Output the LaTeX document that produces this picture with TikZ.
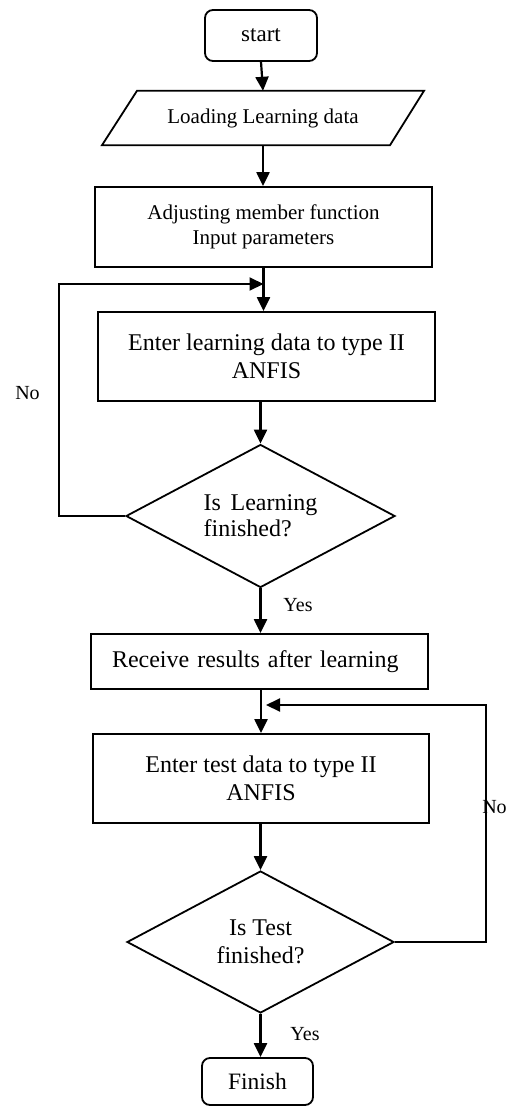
\documentclass[tikz,border=0pt]{standalone}
\usepackage{fontspec}
\setmainfont{Liberation Serif}
\usetikzlibrary{shapes.geometric,arrows.meta,calc}
\tikzset{
  box/.style={draw, line width=1.8pt, minimum width=337pt, inner sep=2pt, align=center,
              font=\fontsize{24}{28}\selectfont},
  term/.style={draw, line width=1.8pt, rounded corners=8pt, inner sep=0pt, align=center},
  dec/.style={draw, diamond, line width=1.8pt, inner sep=0pt, aspect=1.88,
              minimum width=269pt, minimum height=143pt},
  arr/.style={line width=2.2pt, -{Triangle[length=14pt,width=13pt]}},
  lbl/.style={font=\fontsize{20}{24}\selectfont, inner sep=0pt}
}
\begin{document}
\begin{tikzpicture}[x=1pt,y=-1pt]
\fill[white] (0,0) rectangle (510,1106);
\useasboundingbox (0,0) rectangle (510,1106);

\node[term, minimum width=112pt, minimum height=51pt, font=\fontsize{23}{27}\selectfont] (start) at (261,35.5) {start};

\node[minimum width=252pt, minimum height=54pt, inner sep=0pt, font=\fontsize{21}{25}\selectfont] (load) at (263,118) {Loading Learning data};
\draw[line width=1.8pt] ($(load.north)+(-126,0)$) -- ($(load.north)+(161,0)$) -- ($(load.south)+(127,0)$) -- ($(load.south)+(-161,0)$) -- cycle;

\node[box, minimum height=80pt, font=\fontsize{21}{25}\selectfont] (adj) at (263.5,227) {Adjusting member function\\Input parameters};

\node[box, minimum height=89pt] (learn) at (266.5,356.5) {Enter learning data to type II\\ANFIS};

\node[dec, align=left, font=\fontsize{24}{26}\selectfont] (dec1) at (260.5,516) {Is\hspace{0.4em}Learning\\finished?};

\node[box, minimum height=55pt, text width=295pt, inner xsep=21pt, align=left] (recv) at (259.5,661.5) {Receive results after learning};

\node[box, minimum width=336pt, minimum height=89pt] (test) at (261,778.5) {Enter test data to type II\\ANFIS};

\node[dec, minimum width=267pt, minimum height=142pt, align=center, font=\fontsize{24}{28}\selectfont] (dec2) at (260.5,942) {Is Test\\finished?};

\node[term, minimum width=111pt, minimum height=47pt, font=\fontsize{23.5}{27}\selectfont] (fin) at (257.5,1081.5) {Finish};

% connectors
\draw[arr] (start.south) -- (load.north);
\draw[arr] (load.south) -- (load.south |- adj.north);
\draw[arr] (adj.south) -- (adj.south |- learn.north);
\draw[arr] (dec1.north |- learn.south) -- (dec1.north);
\draw[arr] (dec1.south) -- (dec1.south |- recv.north);
\draw[arr] (test.north |- recv.south) -- (test.north);
\draw[arr] (dec2.north |- test.south) -- (dec2.north);
\draw[arr] (dec2.south) -- (dec2.south |- fin.north);

\coordinate (l1) at (59,284);
\coordinate (j1) at (263.5,284);
\draw[arr, line width=2pt] (dec1.west) -| (l1) -- (j1);

\coordinate (r2) at (486,705);
\coordinate (j2) at (266,705);
\draw[arr, line width=2pt] (dec2.east) -| (r2) -- (j2);

% labels
\node[lbl] (no1) at (27.5,393) {No};
\node[lbl] (no2) at (494.5,807) {No};
\node[lbl] (yes1) at (298,605) {Yes};
\node[lbl] (yes2) at (305,1034) {Yes};
\end{tikzpicture}
\end{document}
